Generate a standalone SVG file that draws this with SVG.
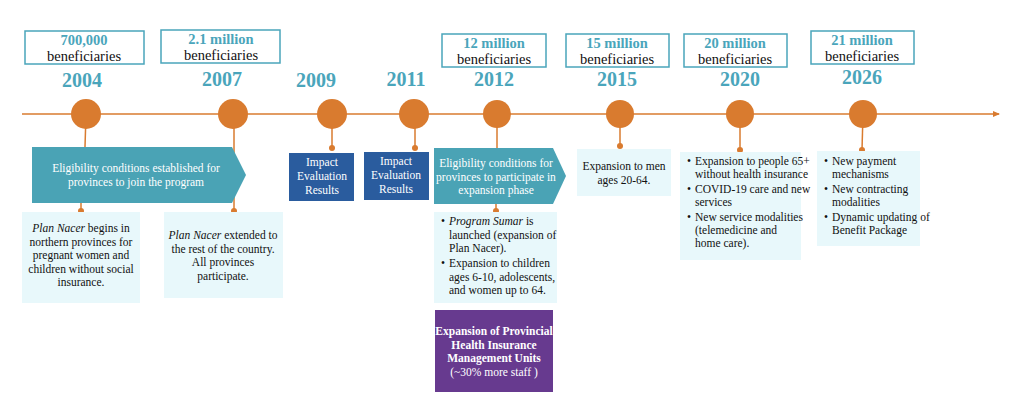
<svg xmlns="http://www.w3.org/2000/svg" width="1024" height="414" viewBox="0 0 1024 414" font-family="'Liberation Serif', 'DejaVu Serif', serif">
<defs>
<style>
text{font-family:'Liberation Serif','DejaVu Serif',serif;}
.tb{fill:#fff;stroke:#4aa5bb;stroke-width:1.5}
.num{fill:#4aa5bb;font-weight:bold;font-size:14.5px;text-anchor:middle}
.ben{fill:#111;font-size:14.5px;text-anchor:middle}
.yr{fill:#4aa5bb;font-weight:bold;font-size:20px;text-anchor:middle}
.dot{fill:#d97b2f}
.ln{stroke:#d97b2f;stroke-width:1.5;fill:none}
.lb{fill:#e8f8fb}
.bt{fill:#111;font-size:11.5px}
.c{text-anchor:middle}
.wt{fill:#fff;font-size:11.5px;text-anchor:middle}
</style>
<marker id="ar" markerWidth="8" markerHeight="8" refX="6" refY="4" orient="auto" markerUnits="userSpaceOnUse"><path d="M0,1 L7,4 L0,7Z" fill="#d97b2f"/></marker>
</defs>
<g id="connectors">
<line class="ln" x1="22" y1="114" x2="999" y2="114" stroke-width="2" marker-end="url(#ar)"/>
<line class="ln" x1="86" y1="114" x2="85" y2="147"/><line class="ln" x1="81" y1="203" x2="81" y2="211"/><circle class="dot" cx="81" cy="211" r="3"/>
<line class="ln" x1="234" y1="114" x2="234" y2="211"/><circle class="dot" cx="234" cy="211" r="3"/>
<line class="ln" x1="332" y1="114" x2="332" y2="148"/><circle class="dot" cx="332" cy="148" r="3"/>
<line class="ln" x1="415" y1="114" x2="415" y2="148"/><circle class="dot" cx="415" cy="148" r="3"/>
<line class="ln" x1="497" y1="114" x2="497" y2="148"/><line class="ln" x1="496" y1="204" x2="496" y2="211"/><circle class="dot" cx="496" cy="211" r="3"/>
<line class="ln" x1="620" y1="114" x2="620" y2="146"/><circle class="dot" cx="620" cy="146" r="3"/>
<line class="ln" x1="740" y1="114" x2="740" y2="150"/><circle class="dot" cx="740" cy="150" r="3"/>
<line class="ln" x1="863" y1="114" x2="862" y2="150"/><circle class="dot" cx="862" cy="150" r="3"/>
</g>
<g id="m2004"><rect class="tb" x="25" y="31" width="119" height="33"/><text class="num" x="84" y="45">700,000</text><text class="ben" x="84" y="61">beneficiaries</text><text class="yr" x="82" y="87">2004</text><circle class="dot" cx="86" cy="114" r="15"/></g>
<g id="m2007"><rect class="tb" x="161" y="30" width="119" height="33"/><text class="num" x="221" y="44">2.1 million</text><text class="ben" x="221" y="60">beneficiaries</text><text class="yr" x="222" y="86">2007</text><circle class="dot" cx="233" cy="114" r="15"/></g>
<g id="m2009"><text class="yr" x="316" y="87">2009</text><circle class="dot" cx="332" cy="114" r="15"/></g>
<g id="m2011"><text class="yr" x="406" y="86">2011</text><circle class="dot" cx="414" cy="114" r="15"/></g>
<g id="m2012"><rect class="tb" x="442" y="34" width="104" height="33"/><text class="num" x="494" y="48">12 million</text><text class="ben" x="494" y="64">beneficiaries</text><text class="yr" x="494" y="86">2012</text><circle class="dot" cx="497" cy="114" r="14"/></g>
<g id="m2015"><rect class="tb" x="566" y="34" width="103" height="33"/><text class="num" x="617" y="48">15 million</text><text class="ben" x="617" y="64">beneficiaries</text><text class="yr" x="617" y="86">2015</text><circle class="dot" cx="620" cy="114" r="14"/></g>
<g id="m2020"><rect class="tb" x="684" y="34" width="103" height="33"/><text class="num" x="735" y="48">20 million</text><text class="ben" x="735" y="64">beneficiaries</text><text class="yr" x="740" y="86">2020</text><circle class="dot" cx="740" cy="114" r="14"/></g>
<g id="m2026"><rect class="tb" x="811" y="31" width="103" height="33"/><text class="num" x="862" y="45">21 million</text><text class="ben" x="862" y="61">beneficiaries</text><text class="yr" x="862" y="84">2026</text><circle class="dot" cx="863" cy="114" r="14"/></g>
<g id="chev1"><path d="M32,147 H232 L246,175 L232,203 H32Z" fill="#4aa3b5"/><text class="wt" x="136" y="172">Eligibility conditions established for</text><text class="wt" x="136" y="186">provinces to join the program</text></g>
<g id="box1"><rect class="lb" x="22" y="212" width="118" height="91"/><text class="bt c" x="81" y="232"><tspan font-style="italic">Plan Nacer</tspan> begins in</text><text class="bt c" x="81" y="246">northern provinces for</text><text class="bt c" x="81" y="259">pregnant women and</text><text class="bt c" x="81" y="273">children without social</text><text class="bt c" x="81" y="286">insurance.</text></g>
<g id="box2"><rect class="lb" x="164" y="212" width="119" height="86"/><text class="bt c" x="223" y="239"><tspan font-style="italic">Plan Nacer</tspan> extended to</text><text class="bt c" x="223" y="253">the rest of the country.</text><text class="bt c" x="223" y="266">All provinces</text><text class="bt c" x="223" y="280">participate.</text></g>
<g id="ie1"><rect x="289" y="153" width="65" height="48" fill="#2a5c9e"/><text class="wt" x="322" y="166">Impact</text><text class="wt" x="322" y="180">Evaluation</text><text class="wt" x="322" y="194">Results</text></g>
<g id="ie2"><rect x="364" y="152" width="65" height="48" fill="#2a5c9e"/><text class="wt" x="396" y="165">Impact</text><text class="wt" x="396" y="179">Evaluation</text><text class="wt" x="396" y="193">Results</text></g>
<g id="chev2"><path d="M434,148 H553 L566,176 L553,204 H434Z" fill="#4aa3b5"/><text class="wt" x="496" y="167">Eligibility conditions for</text><text class="wt" x="496" y="181">provinces to participate in</text><text class="wt" x="496" y="194">expansion phase</text></g>
<g id="box3"><rect class="lb" x="434" y="212" width="123" height="91"/><text class="bt" x="441" y="225">•</text><text class="bt" x="449" y="225"><tspan font-style="italic">Program Sumar</tspan> is</text><text class="bt" x="449" y="239">launched (expansion of</text><text class="bt" x="449" y="252">Plan Nacer).</text><text class="bt" x="441" y="267">•</text><text class="bt" x="449" y="267">Expansion to children</text><text class="bt" x="449" y="281">ages 6-10, adolescents,</text><text class="bt" x="449" y="294">and women up to 64.</text></g>
<g id="purple"><rect x="435" y="310" width="118" height="82" fill="#673a8f"/><text class="wt" x="494" y="335" font-weight="bold">Expansion of Provincial</text><text class="wt" x="494" y="349" font-weight="bold">Health Insurance</text><text class="wt" x="494" y="362" font-weight="bold">Management Units</text><text class="wt" x="494" y="376">(~30% more staff )</text></g>
<g id="box4"><rect class="lb" x="577" y="149" width="94" height="47"/><text class="bt c" x="624" y="170">Expansion to men</text><text class="bt c" x="624" y="184">ages 20-64.</text></g>
<g id="box5"><rect class="lb" x="680" y="152" width="121" height="108"/><text class="bt" x="687" y="165">•</text><text class="bt" x="695" y="165">Expansion to people 65+</text><text class="bt" x="695" y="178">without health insurance</text><text class="bt" x="687" y="193">•</text><text class="bt" x="695" y="193">COVID-19 care and new</text><text class="bt" x="695" y="206">services</text><text class="bt" x="687" y="221">•</text><text class="bt" x="695" y="221">New service modalities</text><text class="bt" x="695" y="234">(telemedicine and</text><text class="bt" x="695" y="247">home care).</text></g>
<g id="box6"><rect class="lb" x="817" y="151" width="103" height="95"/><text class="bt" x="824" y="165">•</text><text class="bt" x="832" y="165">New payment</text><text class="bt" x="832" y="178">mechanisms</text><text class="bt" x="824" y="193">•</text><text class="bt" x="832" y="193">New contracting</text><text class="bt" x="832" y="206">modalities</text><text class="bt" x="824" y="221">•</text><text class="bt" x="832" y="221">Dynamic updating of</text><text class="bt" x="832" y="234">Benefit Package</text></g>
</svg>
